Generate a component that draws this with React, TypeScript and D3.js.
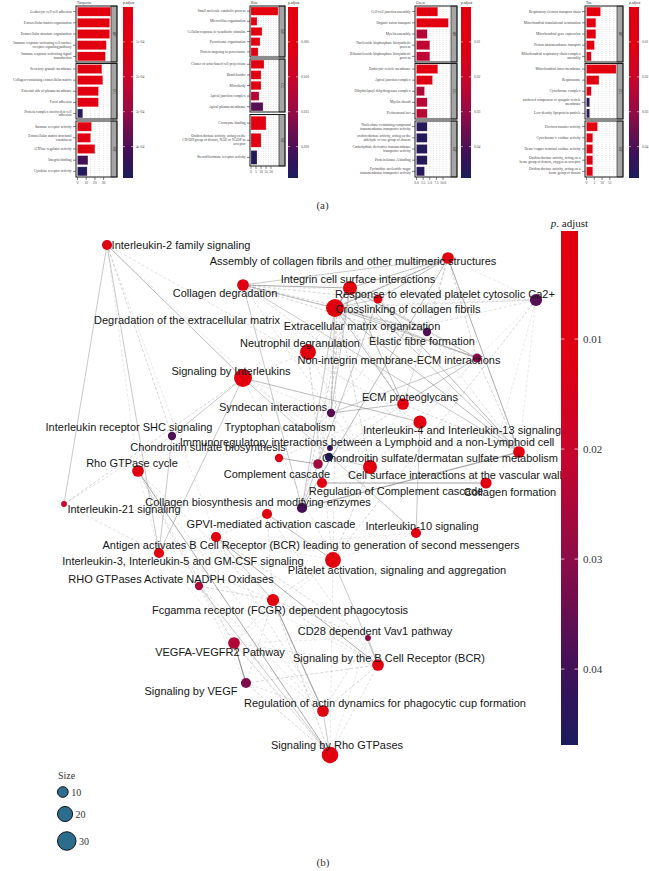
import React from "react";
import * as d3 from "d3";

const W = 649;
const H = 871;

// ================= (a) GO enrichment bar panels =================
const moduleTitles = ["Turquoise", "Blue", "Green", "Tan"];
const ontologyOrder = ["BP", "CC", "MF"];

const turquoiseTerms = [
  "Leukocyte cell-cell adhesion",
  "Extracellular matrix organization",
  "Extracellular structure organization",
  "Immune response-activating cell surface\nreceptor signaling pathway",
  "Immune response-activating signal\ntransduction",
  "Secretory granule membrane",
  "Collagen-containing extracellular matrix",
  "External side of plasma membrane",
  "Focal adhesion",
  "Protein complex involved in cell\nadhesion",
  "Immune receptor activity",
  "Extracellular matrix structural\nconstituent",
  "GTPase regulator activity",
  "Integrin binding",
  "Cytokine receptor activity",
];
const turquoiseOntology = ["BP", "BP", "BP", "BP", "BP", "CC", "CC", "CC", "CC", "CC", "MF", "MF", "MF", "MF", "MF"];
const turquoiseCount = [38, 37, 37, 33, 32, 28, 29, 24, 24, 6, 16, 15, 20, 12, 11];
const turquoisePadj = [1e-5, 1e-5, 1e-5, 2e-5, 2e-5, 3e-5, 2e-5, 4e-5, 5e-5, 4.75e-4, 6e-5, 5e-5, 4e-5, 4.15e-4, 4.78e-4];

const blueTerms = [
  "Small molecule catabolic process",
  "Microvillus organization",
  "Cellular response to xenobiotic stimulus",
  "Peroxisome organization",
  "Protein targeting to peroxisome",
  "Cluster of actin-based cell projections",
  "Brush border",
  "Microbody",
  "Apical junction complex",
  "Apical plasma membrane",
  "Coenzyme binding",
  "Oxidoreductase activity, acting on the\nCH-OH group of donors, NAD or NADP as\nacceptor",
  "Steroid hormone receptor activity",
];
const blueOntology = ["BP", "BP", "BP", "BP", "BP", "CC", "CC", "CC", "CC", "CC", "MF", "MF", "MF"];
const blueCount = [27, 6, 11, 9, 7, 13, 10, 10, 8, 12, 15, 10, 6];
const bluePadj = [0.0005, 0.002, 0.002, 0.003, 0.003, 0.002, 0.003, 0.003, 0.0122, 0.0195, 0.002, 0.004, 0.0238];

const greenTerms = [
  "Cell-cell junction assembly",
  "Organic anion transport",
  "Myelin assembly",
  "Nucleoside bisphosphate biosynthetic\nprocess",
  "Ribonucleoside bisphosphate biosynthetic\nprocess",
  "Endocytic vesicle membrane",
  "Apical junction complex",
  "Dihydrolipoyl dehydrogenase complex",
  "Myelin sheath",
  "Perineuronal net",
  "Nucleobase-containing compound\ntransmembrane transporter activity",
  "oxidoreductase activity, acting on the\naldehyde or oxo group of donors",
  "Carbohydrate derivative transmembrane\ntransporter activity",
  "Protein kinase A binding",
  "Pyrimidine nucleotide-sugar\ntransmembrane transporter activity",
];
const greenOntology = ["BP", "BP", "BP", "BP", "BP", "CC", "CC", "CC", "CC", "CC", "MF", "MF", "MF", "MF", "MF"];
const greenCount = [8, 12, 4, 5, 5, 8, 6, 3, 4, 4, 4, 4, 4, 4, 3];
const greenPadj = [0.004, 0.002, 0.024, 0.023, 0.023, 0.006, 0.008, 0.025, 0.024, 0.024, 0.0475, 0.0475, 0.0475, 0.0475, 0.0475];

const tanTerms = [
  "Respiratory electron transport chain",
  "Mitochondrial translational termination",
  "Mitochondrial gene expression",
  "Proton transmembrane transport",
  "Mitochondrial respiratory chain complex\nassembly",
  "Mitochondrial inner membrane",
  "Respirasome",
  "Cytochrome complex",
  "anchored component of synaptic vesicle\nmembrane",
  "Low-density lipoprotein particle",
  "Electron transfer activity",
  "Cytochrome-c oxidase activity",
  "Heme-copper terminal oxidase activity",
  "Oxidoreductase activity, acting on a\nheme group of donors, oxygen as acceptor",
  "Oxidoreductase activity, acting on a\nheme group of donors",
];
const tanOntology = ["BP", "BP", "BP", "BP", "BP", "CC", "CC", "CC", "CC", "CC", "MF", "MF", "MF", "MF", "MF"];
const tanCount = [9, 6, 6, 5, 3, 19, 8, 3, 2, 2, 7, 4, 4, 4, 4];
const tanPadj = [0.001, 0.002, 0.002, 0.003, 0.005, 0.0005, 0.002, 0.004, 0.0475, 0.0475, 0.002, 0.003, 0.003, 0.003, 0.003];

const countTicks = [
  [0, 10, 20, 30],
  [0, 5, 10, 15, 20],
  [0, 2.5, 5, 7.5, 10],
  [0, 5, 10, 15],
];
const padjTicks = [
  [1e-4, 2e-4, 3e-4, 4e-4],
  [0.005, 0.01, 0.015, 0.02],
  [0.01, 0.02, 0.03, 0.04],
  [0.01, 0.02, 0.03, 0.04],
];

const panelTerms = [turquoiseTerms, blueTerms, greenTerms, tanTerms];
const panelOnt = [turquoiseOntology, blueOntology, greenOntology, tanOntology];
const panelCount = [turquoiseCount, blueCount, greenCount, tanCount];
const panelPadj = [turquoisePadj, bluePadj, greenPadj, tanPadj];

// layout of the four small panels (pixels)
const panelLayout = [
  { boxL: 76, barX: 77.5, stripL: 111, stripR: 117, xMax: 38.5, cbX: 123, pMax: 4.9e-4, facets: [[6, 62], [63.5, 119], [121, 177]] },
  { boxL: 250, barX: 251, stripL: 279, stripR: 285, xMax: 28, cbX: 288, pMax: 0.0245, facets: [[6, 57], [59, 112], [114.5, 166]] },
  { boxL: 415, barX: 416.5, stripL: 451, stripR: 457, xMax: 13, cbX: 461, pMax: 0.049, facets: [[6, 62], [63.5, 119], [121, 177]] },
  { boxL: 585, barX: 586.5, stripL: 617, stripR: 623, xMax: 19.6, cbX: 629, pMax: 0.049, facets: [[6, 62], [63.5, 119], [121, 177]] },
];

// ================= (b) enrichment map =================
const nodeIds = [
  "il2", "assembly", "colDeg", "degECM", "ca2", "crosslink", "ecmOrg", "integrin",
  "neutro", "elastic", "nonInt", "sigIL", "syndecan", "ecmPG", "il413", "shc",
  "trypto", "chondBio", "immuno", "chondDer", "cellSurf", "collForm", "rhoCycle", "complement",
  "regComp", "collBio", "il21", "gpvi", "antigen", "il10", "il35", "platelet",
  "rhoNADPH", "fcgr", "cd28", "vegfa", "sigBCR", "sigVEGF", "regActin", "sigRho",
];
const nodeNames = [
  "Interleukin-2 family signaling",
  "Assembly of collagen fibrils and other multimeric structures",
  "Collagen degradation",
  "Degradation of the extracellular matrix",
  "Response to elevated platelet cytosolic Ca2+",
  "Crosslinking of collagen fibrils",
  "Extracellular matrix organization",
  "Integrin cell surface interactions",
  "Neutrophil degranulation",
  "Elastic fibre formation",
  "Non-integrin membrane-ECM interactions",
  "Signaling by Interleukins",
  "Syndecan interactions",
  "ECM proteoglycans",
  "Interleukin-4 and Interleukin-13 signaling",
  "Interleukin receptor SHC signaling",
  "Tryptophan catabolism",
  "Chondroitin sulfate biosynthesis",
  "Immunoregulatory interactions between a Lymphoid and a non-Lymphoid cell",
  "Chondroitin sulfate/dermatan sulfate metabolism",
  "Cell surface interactions at the vascular wall",
  "Collagen formation",
  "Rho GTPase cycle",
  "Complement cascade",
  "Regulation of Complement cascade",
  "Collagen biosynthesis and modifying enzymes",
  "Interleukin-21 signaling",
  "GPVI-mediated activation cascade",
  "Antigen activates B Cell Receptor (BCR) leading to generation of second messengers",
  "Interleukin-10 signaling",
  "Interleukin-3, Interleukin-5 and GM-CSF signaling",
  "Platelet activation, signaling and aggregation",
  "RHO GTPases Activate NADPH Oxidases",
  "Fcgamma receptor (FCGR) dependent phagocytosis",
  "CD28 dependent Vav1 pathway",
  "VEGFA-VEGFR2 Pathway",
  "Signaling by the B Cell Receptor (BCR)",
  "Signaling by VEGF",
  "Regulation of actin dynamics for phagocytic cup formation",
  "Signaling by Rho GTPases",
];
// force-directed layout coordinates (layout units)
const nodeX = [47, 388, 183, 290, 476, 318, 275, 277, 248, 367, 417, 183, 271, 343, 360, 112, 270, 219, 269, 258, 310, 459, 78, 262, 426, 242, 4, 207, 156, 356, 99, 273, 139, 213, 308, 174, 318, 186, 263, 270];
const nodeY = [5, 18, 45, 48, 60, 59, 68, 66, 112, 92, 118, 138, 173, 164, 182, 196, 208, 218, 217, 224, 227, 212, 231, 243, 243, 268, 264, 274, 297, 293, 313, 320, 346, 360, 398, 403, 425, 443, 471, 515];
// repelled label positions (layout units)
const labelX = [121, 293, 165, 127, 385, 348, 302, 298, 240, 362, 339, 171, 213, 350, 402, 69, 220, 148, 307, 380, 395, 450, 72, 217, 336, 198, 64, 211, 251, 362, 123, 337, 111, 220, 315, 160, 329, 131, 325, 277];
const labelY = [5, 21, 53, 80, 54, 69, 86, 39, 103, 101, 120, 131, 167, 157, 190, 187, 187, 207, 202, 218, 235, 252, 223, 234, 251, 262, 269, 284, 305, 286, 321, 330, 339, 370, 391, 412, 418, 451, 463, 505];
const nodeSize = [9, 12, 12, 17, 13, 7, 28, 6, 22, 6, 7, 28, 6, 12, 15, 6, 3, 6, 6, 8, 17, 12, 12, 9, 11, 9, 3, 9, 9, 9, 9, 22, 6, 13, 3, 12, 12, 9, 12, 24];
const nodePadj = [0.004, 0.002, 0.003, 0.001, 0.037, 0.006, 0.0005, 0.004, 0.0008, 0.038, 0.031, 0.0003, 0.037, 0.004, 0.002, 0.038, 0.041, 0.008, 0.046, 0.027, 0.002, 0.005, 0.004, 0.006, 0.007, 0.039, 0.021, 0.005, 0.004, 0.006, 0.005, 0.001, 0.025, 0.002, 0.03, 0.024, 0.003, 0.032, 0.003, 0.0005];

const edgeList: [string, string, number][] = [
  ["il2", "sigIL", 0.6], ["il2", "il21", 0.5], ["il2", "shc", 0.4], ["il2", "il35", 0.5], ["il2", "il413", 0.3], ["il2", "il10", 0.25], ["il2", "rhoCycle", 0.2], ["il2", "antigen", 0.2],
  ["sigIL", "il21", 0.4], ["sigIL", "shc", 0.5], ["sigIL", "il35", 0.5], ["sigIL", "il413", 0.6], ["sigIL", "il10", 0.5], ["sigIL", "neutro", 0.3], ["sigIL", "platelet", 0.2], ["sigIL", "syndecan", 0.2], ["sigIL", "cellSurf", 0.2],
  ["shc", "il35", 0.5], ["shc", "il21", 0.3], ["il21", "il35", 0.3],
  ["il413", "il10", 0.5], ["il413", "cellSurf", 0.3], ["il413", "ecmPG", 0.2], ["il413", "immuno", 0.2],
  ["assembly", "colDeg", 0.5], ["assembly", "integrin", 0.4], ["assembly", "ecmOrg", 0.7], ["assembly", "crosslink", 0.6], ["assembly", "degECM", 0.6], ["assembly", "collForm", 0.7], ["assembly", "collBio", 0.6], ["assembly", "nonInt", 0.4], ["assembly", "ecmPG", 0.3], ["assembly", "elastic", 0.4], ["assembly", "syndecan", 0.3], ["assembly", "ca2", 0.2],
  ["colDeg", "ecmOrg", 0.6], ["colDeg", "degECM", 0.7], ["colDeg", "integrin", 0.4], ["colDeg", "crosslink", 0.4], ["colDeg", "collForm", 0.5], ["colDeg", "collBio", 0.5], ["colDeg", "nonInt", 0.4], ["colDeg", "ecmPG", 0.3], ["colDeg", "ca2", 0.2], ["colDeg", "syndecan", 0.3], ["colDeg", "elastic", 0.3],
  ["integrin", "ecmOrg", 0.7], ["integrin", "degECM", 0.6], ["integrin", "syndecan", 0.4], ["integrin", "ecmPG", 0.4], ["integrin", "nonInt", 0.5], ["integrin", "cellSurf", 0.4], ["integrin", "platelet", 0.3], ["integrin", "elastic", 0.4], ["integrin", "ca2", 0.3],
  ["ecmOrg", "degECM", 0.9], ["ecmOrg", "crosslink", 0.5], ["ecmOrg", "elastic", 0.5], ["ecmOrg", "nonInt", 0.6], ["ecmOrg", "ecmPG", 0.6], ["ecmOrg", "syndecan", 0.5], ["ecmOrg", "collForm", 0.6], ["ecmOrg", "collBio", 0.5], ["ecmOrg", "ca2", 0.3], ["ecmOrg", "chondDer", 0.2],
  ["degECM", "crosslink", 0.4], ["degECM", "elastic", 0.5], ["degECM", "nonInt", 0.5], ["degECM", "ecmPG", 0.6], ["degECM", "syndecan", 0.5], ["degECM", "collForm", 0.5], ["degECM", "collBio", 0.4], ["degECM", "chondDer", 0.3], ["degECM", "neutro", 0.2],
  ["crosslink", "collForm", 0.6], ["crosslink", "collBio", 0.5], ["crosslink", "elastic", 0.4], ["crosslink", "ca2", 0.2],
  ["ca2", "platelet", 0.4], ["ca2", "neutro", 0.3], ["ca2", "collForm", 0.2], ["ca2", "regComp", 0.2], ["ca2", "nonInt", 0.2],
  ["elastic", "nonInt", 0.4], ["elastic", "ecmPG", 0.3], ["elastic", "collForm", 0.3],
  ["nonInt", "syndecan", 0.5], ["nonInt", "ecmPG", 0.6], ["nonInt", "collForm", 0.4], ["nonInt", "il413", 0.2], ["nonInt", "cellSurf", 0.2],
  ["ecmPG", "syndecan", 0.6], ["ecmPG", "collForm", 0.4], ["ecmPG", "chondDer", 0.4], ["ecmPG", "chondBio", 0.3], ["ecmPG", "cellSurf", 0.2],
  ["collForm", "collBio", 0.8], ["collForm", "regComp", 0.2],
  ["syndecan", "chondDer", 0.2], ["syndecan", "cellSurf", 0.3],
  ["chondBio", "chondDer", 0.7], ["chondBio", "syndecan", 0.2],
  ["complement", "regComp", 0.8], ["complement", "immuno", 0.2], ["complement", "cellSurf", 0.2],
  ["cellSurf", "immuno", 0.5], ["cellSurf", "platelet", 0.4], ["cellSurf", "neutro", 0.3], ["cellSurf", "regComp", 0.2],
  ["neutro", "platelet", 0.3], ["neutro", "complement", 0.2], ["neutro", "regComp", 0.2],
  ["trypto", "immuno", 0.2], ["trypto", "il413", 0.2],
  ["antigen", "sigBCR", 0.7], ["antigen", "fcgr", 0.5], ["antigen", "gpvi", 0.3], ["antigen", "cd28", 0.4], ["antigen", "regActin", 0.3], ["antigen", "rhoNADPH", 0.2], ["antigen", "il35", 0.2], ["antigen", "platelet", 0.2],
  ["gpvi", "platelet", 0.6], ["gpvi", "sigBCR", 0.3], ["gpvi", "fcgr", 0.3], ["gpvi", "il35", 0.2],
  ["platelet", "sigRho", 0.2], ["platelet", "sigBCR", 0.5], ["platelet", "fcgr", 0.3], ["platelet", "il10", 0.2], ["platelet", "vegfa", 0.2],
  ["fcgr", "regActin", 0.8], ["fcgr", "sigBCR", 0.4], ["fcgr", "sigRho", 0.4], ["fcgr", "rhoNADPH", 0.4], ["fcgr", "vegfa", 0.4], ["fcgr", "sigVEGF", 0.3], ["fcgr", "cd28", 0.4], ["fcgr", "rhoCycle", 0.3], ["fcgr", "il35", 0.3],
  ["rhoNADPH", "sigRho", 0.5], ["rhoNADPH", "rhoCycle", 0.4], ["rhoNADPH", "regActin", 0.3], ["rhoNADPH", "vegfa", 0.3], ["rhoNADPH", "sigVEGF", 0.2], ["rhoNADPH", "il35", 0.2],
  ["rhoCycle", "sigRho", 0.7], ["rhoCycle", "regActin", 0.3], ["rhoCycle", "vegfa", 0.3], ["rhoCycle", "il35", 0.2],
  ["vegfa", "sigVEGF", 0.9], ["vegfa", "sigRho", 0.4], ["vegfa", "regActin", 0.3], ["vegfa", "sigBCR", 0.3], ["vegfa", "cd28", 0.2],
  ["sigVEGF", "sigRho", 0.4], ["sigVEGF", "regActin", 0.3], ["sigVEGF", "sigBCR", 0.4],
  ["sigBCR", "cd28", 0.5], ["sigBCR", "regActin", 0.4], ["sigBCR", "sigRho", 0.3], ["sigBCR", "il35", 0.2],
  ["cd28", "regActin", 0.3], ["cd28", "sigRho", 0.2],
  ["regActin", "sigRho", 0.5],
  ["il35", "sigRho", 0.2], ["il35", "il10", 0.2],
];

const padjLegendTicks = [0.01, 0.02, 0.03, 0.04];
const sizeLegendValues = [10, 20, 30];

// ================= shared colour scale =================
const colorPos = [0, 0.25, 0.43, 0.64, 0.855, 1];
const colorHex = ["#e2000f", "#df0013", "#c8052c", "#8c0c48", "#3e1158", "#1c1c5c"];
const colorAt = d3.scaleLinear<string>().domain(colorPos).range(colorHex).interpolate(d3.interpolateRgb).clamp(true);
const gradStops = d3.range(0, 1.0001, 0.05);

const serif = "'Liberation Serif', 'DejaVu Serif', serif";
const sans = "'Liberation Sans', Arial, sans-serif";

function GoPanel({ idx }: { idx: number }) {
  const L = panelLayout[idx];
  const terms = panelTerms[idx];
  const ont = panelOnt[idx];
  const counts = panelCount[idx];
  const padj = panelPadj[idx];
  const x = d3.scaleLinear().domain([0, L.xMax]).range([L.barX, L.stripL]);
  const tScale = d3.scaleLinear().domain([0, L.pMax]).range([0, 1]).clamp(true);
  const cbY = d3.scaleLinear().domain([0, L.pMax]).range([7, 178]);
  const bottom = L.facets[2][1];
  const fs = 3.6;
  const lh = 3.9;
  const ticks = countTicks[idx];
  const step = ticks[1] - ticks[0];
  const gridVals = d3.range(0, L.xMax, step / 2);
  const gid = `cbgrad${idx}`;
  const fmt = (v: number) =>
    idx === 0 ? d3.format(".0e")(v).replace("e-4", "e-04") : idx === 1 ? d3.format(".3f")(v) : d3.format(".2f")(v);
  const axisFmt = (v: number) => (idx === 2 ? d3.format(".1f")(v) : String(v));

  return (
    <g>
      <defs>
        <linearGradient id={gid} x1="0" y1="0" x2="0" y2="1">
          {gradStops.map((s) => (
            <stop key={s} offset={s} stopColor={colorAt(s)} />
          ))}
        </linearGradient>
      </defs>
      <text x={L.boxL + 1} y={3.6} fontSize={fs} fontFamily={serif} fill="#333">
        {moduleTitles[idx]}
      </text>
      {ontologyOrder.map((o, fi) => {
        const [y0, y1] = L.facets[fi];
        const ids = terms.map((_, i) => i).filter((i) => ont[i] === o);
        const band = d3.scaleBand<number>().domain(ids).range([y0, y1]).paddingInner(0.2).paddingOuter(0.1);
        return (
          <g key={o}>
            <rect x={L.boxL} y={y0} width={L.stripL - L.boxL} height={y1 - y0} fill="#fff" />
            {gridVals.map((v) => (
              <line key={v} x1={x(v)} x2={x(v)} y1={y0 + 1} y2={y1 - 1} stroke="#9a9a9a" strokeWidth={0.5} strokeDasharray="0.6 1.6" />
            ))}
            {ids.map((i) => {
              const yc = band(i)! + band.bandwidth() / 2;
              const lines = terms[i].split("\n");
              return (
                <g key={i}>
                  <rect
                    x={x(0)}
                    y={band(i)!}
                    width={x(counts[i]) - x(0)}
                    height={band.bandwidth()}
                    fill={colorAt(tScale(padj[i]))}
                    stroke="#f3b9b9"
                    strokeWidth={0.25}
                  />
                  <line x1={L.boxL - 3} x2={L.boxL} y1={yc} y2={yc} stroke="#333" strokeWidth={0.6} />
                  <text
                    x={L.boxL - 4.5}
                    y={yc - ((lines.length - 1) * lh) / 2}
                    fontSize={fs}
                    fontFamily={serif}
                    fill="#444"
                    textAnchor="end"
                    dominantBaseline="central"
                  >
                    {lines.map((ln, k) => (
                      <tspan key={k} x={L.boxL - 4.5} dy={k === 0 ? 0 : lh}>
                        {ln}
                      </tspan>
                    ))}
                  </text>
                </g>
              );
            })}
            <rect x={L.stripL} y={y0} width={L.stripR - L.stripL} height={y1 - y0} fill="#a5a5a5" stroke="#1a1a1a" strokeWidth={0.6} />
            <rect x={L.boxL} y={y0} width={L.stripR - L.boxL} height={y1 - y0} fill="none" stroke="#1a1a1a" strokeWidth={1} />
            <text
              transform={`translate(${(L.stripL + L.stripR) / 2},${(y0 + y1) / 2}) rotate(90)`}
              fontSize={fs}
              fontFamily={serif}
              fill="#222"
              textAnchor="middle"
              dominantBaseline="central"
            >
              {o}
            </text>
          </g>
        );
      })}
      {ticks.map((t) => (
        <g key={t}>
          <line x1={x(t)} x2={x(t)} y1={bottom} y2={bottom + 3} stroke="#333" strokeWidth={0.6} />
          <text x={x(t)} y={bottom + 7} fontSize={fs} fontFamily={serif} fill="#444" textAnchor="middle">
            {axisFmt(t)}
          </text>
        </g>
      ))}
      <text x={L.cbX} y={3.8} fontSize={fs} fontFamily={serif} fill="#333">
        p.adjust
      </text>
      <rect x={L.cbX} y={cbY(0)} width={10} height={cbY(L.pMax) - cbY(0)} fill={`url(#${gid})`} />
      {padjTicks[idx].map((v) => (
        <g key={v}>
          <line x1={L.cbX} x2={L.cbX + 2} y1={cbY(v)} y2={cbY(v)} stroke="#f6d6da" strokeWidth={0.6} />
          <line x1={L.cbX + 8} x2={L.cbX + 10} y1={cbY(v)} y2={cbY(v)} stroke="#f6d6da" strokeWidth={0.6} />
          <text x={L.cbX + 13} y={cbY(v)} fontSize={fs} fontFamily={serif} fill="#444" dominantBaseline="central">
            {fmt(v)}
          </text>
        </g>
      ))}
    </g>
  );
}

function Network() {
  const xN = d3.scaleLinear().domain([0, 500]).range([60, 560]);
  const yN = d3.scaleLinear().domain([0, 520]).range([240, 760]);
  const rN = d3.scaleSqrt().domain([0, 35]).range([0, 10]);
  const pMin = 0.00018;
  const pMax = 0.0469;
  const tN = d3.scaleLinear().domain([pMin, pMax]).range([0, 1]).clamp(true);
  const cbY = d3.scaleLinear().domain([pMin, pMax]).range([231, 745]);
  const idx = new Map(nodeIds.map((id, i) => [id, i]));
  const wScale = d3.scaleLinear().domain([0.2, 0.9]).range([0.4, 1.2]);
  const oScale = d3.scaleLinear().domain([0.2, 0.9]).range([0.45, 0.85]);
  const cbX = 561;

  return (
    <g>
      <defs>
        <linearGradient id="netgrad" x1="0" y1="0" x2="0" y2="1">
          {gradStops.map((s) => (
            <stop key={s} offset={s} stopColor={colorAt(s)} />
          ))}
        </linearGradient>
      </defs>
      {edgeList.map(([a, b, w], k) => {
        const i = idx.get(a)!;
        const j = idx.get(b)!;
        return (
          <line
            key={k}
            x1={xN(nodeX[i])}
            y1={yN(nodeY[i])}
            x2={xN(nodeX[j])}
            y2={yN(nodeY[j])}
            stroke="#8a8a8a"
            strokeOpacity={oScale(w)}
            strokeWidth={wScale(w)}
            strokeDasharray={w < 0.45 ? "3 2" : undefined}
          />
        );
      })}
      {nodeIds.map((id, i) => (
        <circle key={id} cx={xN(nodeX[i])} cy={yN(nodeY[i])} r={rN(nodeSize[i])} fill={colorAt(tN(nodePadj[i]))} />
      ))}
      {nodeIds.map((id, i) => (
        <text
          key={id}
          x={xN(labelX[i])}
          y={yN(labelY[i])}
          fontSize={11}
          fontFamily={sans}
          fill="#161616"
          textAnchor="middle"
          dominantBaseline="central"
        >
          {nodeNames[i]}
        </text>
      ))}
      {/* colour legend */}
      <text x={cbX + 8.5} y={227} fontSize={11} fontFamily={serif} fill="#222" textAnchor="middle">
        <tspan fontStyle="italic">p</tspan>. adjust
      </text>
      <rect x={cbX} y={cbY(pMin)} width={17} height={cbY(pMax) - cbY(pMin)} fill="url(#netgrad)" />
      {padjLegendTicks.map((v) => (
        <g key={v}>
          <line x1={cbX} x2={cbX + 3.5} y1={cbY(v)} y2={cbY(v)} stroke="#f3d3d8" strokeWidth={0.8} />
          <line x1={cbX + 13.5} x2={cbX + 17} y1={cbY(v)} y2={cbY(v)} stroke="#f3d3d8" strokeWidth={0.8} />
          <text x={cbX + 22} y={cbY(v)} fontSize={11} fontFamily={serif} fill="#333" dominantBaseline="central">
            {d3.format(".2f")(v)}
          </text>
        </g>
      ))}
      {/* size legend */}
      <text x={58} y={779} fontSize={10} fontFamily={serif} fill="#333">
        Size
      </text>
      {sizeLegendValues.map((s, k) => {
        const r = rN(s);
        const cy = [792, 814, 841][k];
        return (
          <g key={s}>
            <circle cx={57.5 + r} cy={cy} r={r} fill="#2c6d8e" stroke="#111" strokeWidth={1} />
            <text x={57.5 + 2 * r + 3} y={cy} fontSize={10} fontFamily={serif} fill="#333" dominantBaseline="central">
              {s}
            </text>
          </g>
        );
      })}
    </g>
  );
}

export default function App() {
  return (
    <svg
      width={W}
      height={H}
      viewBox={`0 0 ${W} ${H}`}
      style={{ position: "absolute", left: 0, top: 0, background: "#fff" }}
    >
      <rect width={W} height={H} fill="#fff" />
      {[0, 1, 2, 3].map((i) => (
        <GoPanel key={i} idx={i} />
      ))}
      <text x={322.5} y={209} fontSize={11} fontFamily={serif} fill="#333" textAnchor="middle">
        (a)
      </text>
      <Network />
      <text x={323} y={866} fontSize={11} fontFamily={serif} fill="#333" textAnchor="middle">
        (b)
      </text>
    </svg>
  );
}
